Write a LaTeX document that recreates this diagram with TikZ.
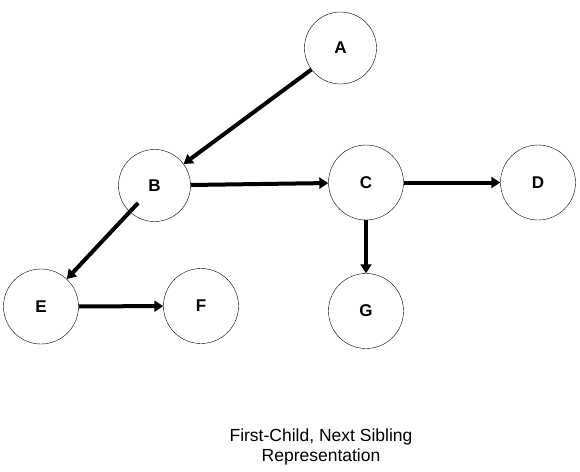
\documentclass[tikz,border=0pt]{standalone}
\usepackage{fontspec}
\setmainfont{Liberation Sans}
\usetikzlibrary{arrows.meta}
\begin{document}
\begin{tikzpicture}[x=1pt,y=-1pt,
  nd/.style={circle,draw,thin,minimum size=72pt,inner sep=0pt,font=\fontsize{17}{19}\selectfont\bfseries},
  arr/.style={line width=4pt,-{Triangle[length=9pt,width=11pt]}}]
\useasboundingbox (0,0) rectangle (580,471);
\node[nd] (A) at (340.5,48) {A};
\node[nd] (B) at (154.5,185.5) {B};
\node[nd,minimum size=75pt] (C) at (366,182.5) {C};
\node[nd,minimum size=75pt] (D) at (538,182.5) {D};
\node[nd,minimum size=75pt] (E) at (41,306.5) {E};
\node[nd,minimum size=75pt] (F) at (201,306) {F};
\node[nd,minimum size=75pt] (G) at (366,311) {G};
\draw[arr] (A) -- (B);
\draw[arr] (B) -- (C);
\draw[arr] (C) -- (D);
\draw[arr] (C) -- (G);
\draw[arr,shorten <=24pt] (B.center) -- (E);
\draw[arr] (E) -- (F);
\node[font=\fontsize{17.5}{20}\selectfont,align=center] (cap) at (321,447) {First-Child, Next Sibling\\Representation};
\end{tikzpicture}
\end{document}
